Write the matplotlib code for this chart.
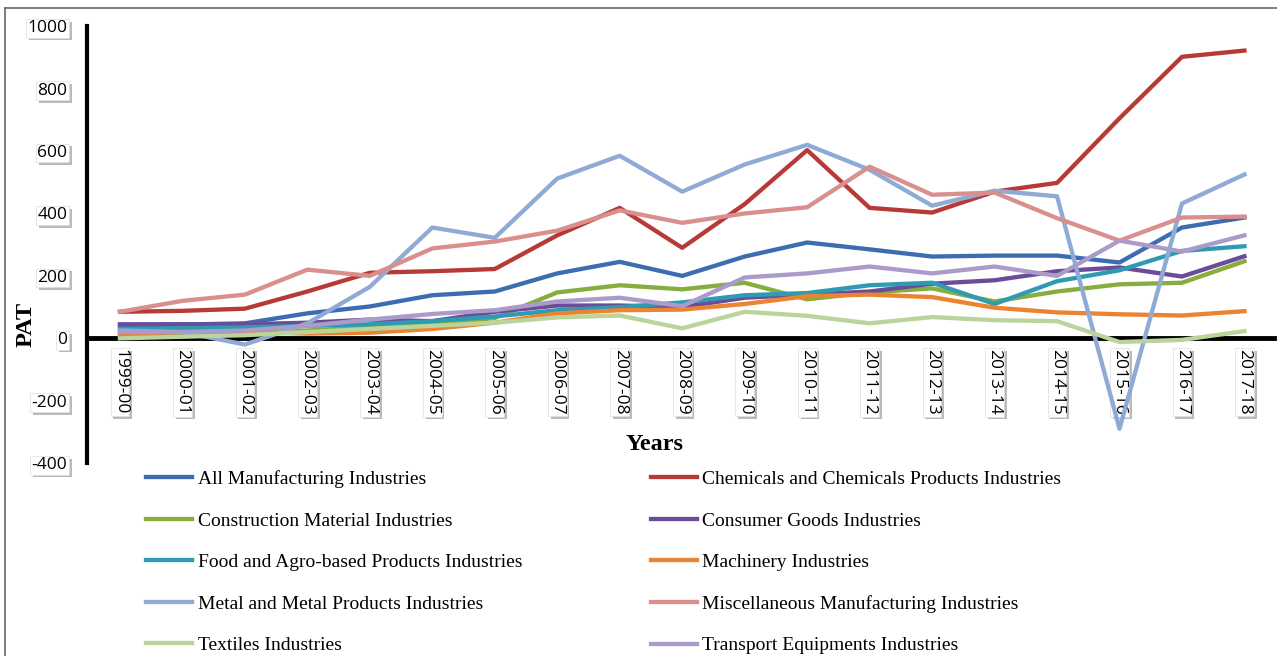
import numpy as np
import matplotlib
matplotlib.use('Agg')
import matplotlib.pyplot as plt
import matplotlib.patheffects as pe
from matplotlib.lines import Line2D

# data
years = ['1999-00', '2000-01', '2001-02', '2002-03', '2003-04', '2004-05', '2005-06',
         '2006-07', '2007-08', '2008-09', '2009-10', '2010-11', '2011-12', '2012-13',
         '2013-14', '2014-15', '2015-16', '2016-17', '2017-18']

all_mfg = [42, 44, 48, 80, 102, 138, 150, 208, 245, 200, 262, 307, 285, 262, 265, 265, 243, 355, 387]
chemicals = [85, 88, 95, 150, 210, 215, 222, 330, 418, 290, 430, 603, 418, 403, 470, 498, 705, 902, 922]
construction = [10, 15, 20, 25, 35, 45, 65, 147, 170, 157, 178, 125, 147, 160, 118, 150, 173, 178, 247]
consumer = [45, 45, 45, 50, 60, 55, 85, 105, 105, 100, 130, 140, 150, 175, 186, 215, 227, 198, 263]
food = [30, 32, 35, 40, 45, 55, 70, 90, 100, 115, 138, 145, 170, 178, 110, 183, 218, 280, 295]
machinery = [15, 20, 20, 15, 18, 30, 50, 80, 90, 92, 110, 135, 140, 132, 98, 83, 77, 73, 87]
metal = [25, 20, -20, 48, 165, 355, 322, 512, 585, 470, 557, 620, 540, 425, 473, 455, -290, 432, 525]
misc = [85, 120, 140, 220, 200, 288, 310, 345, 410, 370, 400, 420, 550, 460, 467, 385, 313, 387, 390]
textiles = [0, 5, 10, 20, 30, 40, 50, 67, 73, 32, 85, 72, 48, 68, 58, 55, -12, -5, 23]
transport = [20, 20, 25, 40, 60, 78, 90, 118, 130, 103, 195, 208, 230, 208, 230, 200, 313, 278, 330]

series = [
    ('All Manufacturing Industries', all_mfg, '#3D6CB0'),
    ('Chemicals and Chemicals Products Industries', chemicals, '#B73A37'),
    ('Construction Material Industries', construction, '#86AD3E'),
    ('Consumer Goods Industries', consumer, '#6A4C98'),
    ('Food and Agro-based Products Industries', food, '#2F9BB2'),
    ('Machinery Industries', machinery, '#EC8330'),
    ('Metal and Metal Products Industries', metal, '#8FABD5'),
    ('Miscellaneous Manufacturing Industries', misc, '#D98F8D'),
    ('Textiles Industries', textiles, '#BAD49C'),
    ('Transport Equipments Industries', transport, '#AB9BCB'),
]

fig = plt.figure(figsize=(12.77, 6.56), dpi=100)
ax = fig.add_axes([0.068, 0.294, 0.930, 0.666])

x = np.arange(len(years))
handles = []
for name, vals, col in series:
    h, = ax.plot(x, vals, color=col, linewidth=3.1, label=name)
    handles.append(h)

ax.set_xlim(-0.53, 18.48)
ax.set_ylim(-400, 1000)

for s in ['top', 'right']:
    ax.spines[s].set_visible(False)
ax.spines['left'].set_linewidth(3)
ax.spines['bottom'].set_position(('data', 0))
ax.spines['bottom'].set_linewidth(3.5)
ax.spines['bottom'].set_zorder(1)

shadow = [pe.SimplePatchShadow(offset=(2, -2), shadow_rgbFace='#777777', alpha=0.5), pe.Normal()]

ax.set_yticks(np.arange(-400, 1001, 200))
ax.set_yticklabels([str(v) for v in range(-400, 1001, 200)], fontsize=12.5, family='Open Sans')
ax.tick_params(axis='y', length=0, pad=14)
ax.set_xticks(x)
ax.set_xticklabels(years, rotation=-90, fontsize=12.5, family='Open Sans')
ax.tick_params(axis='x', length=0, pad=8)

for lbl in ax.get_yticklabels() + ax.get_xticklabels():
    lbl.set_bbox(dict(facecolor='white', edgecolor='#dddddd', linewidth=0.5, pad=1.0))
    lbl.get_bbox_patch().set_path_effects(shadow)

fig.text(0.020, 0.505, 'PAT', rotation=90, fontsize=17.5, fontweight='bold',
         family='Liberation Serif', ha='center', va='center')
fig.text(0.513, 0.323, 'Years', fontsize=17.5, fontweight='bold',
         family='Liberation Serif', ha='center', va='center')

order = [0, 2, 4, 6, 8, 1, 3, 5, 7, 9]
fig.legend([handles[i] for i in order], [series[i][0] for i in order],
           loc='upper left', bbox_to_anchor=(0.102, 0.307), ncol=2, frameon=False,
           prop={'family': 'Liberation Serif', 'size': 14},
           handlelength=2.4, handletextpad=0.27, labelspacing=1.23, columnspacing=6.6,
           borderaxespad=0.4)

# outer frame (top and left edges visible)
fl = 5 / 1277
ft = 1 - 8 / 656
fig.add_artist(Line2D([fl, 1], [ft, ft], color='#666666', linewidth=1.2))
fig.add_artist(Line2D([fl, fl], [0, ft], color='#666666', linewidth=1.2))

fig.savefig('out.png', dpi=100)
